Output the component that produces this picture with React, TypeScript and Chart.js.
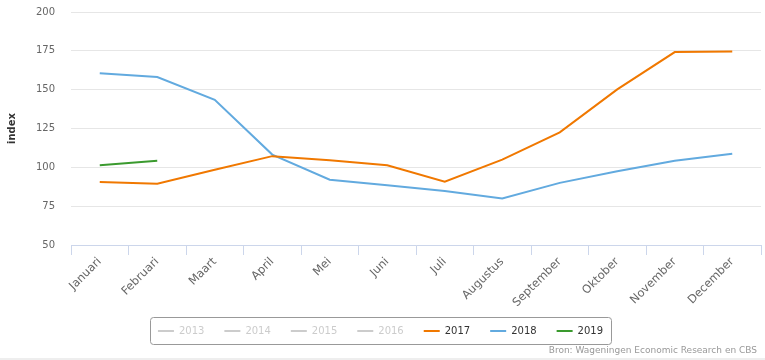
import React, { useEffect, useRef } from "react";
import { Chart, registerables } from "chart.js";

Chart.register(...registerables);

const months = ["Januari", "Februari", "Maart", "April", "Mei", "Juni", "Juli", "Augustus", "September", "Oktober", "November", "December"];
const years = ["2013", "2014", "2015", "2016", "2017", "2018", "2019"];
const values2017 = [90.5, 89.5, 98.5, 107.2, 104.5, 101.3, 90.7, 105, 122.5, 150.2, 174.2, 174.5];
const values2018 = [160.6, 158.1, 143.5, 108.2, 92, 88.5, 84.7, 80, 90, 97.5, 104.3, 108.8];
const values2019 = [101.3, 104.3];
const yTicks = [50, 75, 100, 125, 150, 175, 200];

const FONT = "'DejaVu Sans', Verdana, sans-serif";

export default function App() {
  const ref = useRef<HTMLCanvasElement | null>(null);

  useEffect(() => {
    document.body.style.margin = "0";
    const canvas = ref.current;
    if (!canvas) return;

    const seriesData: Record<string, number[]> = {
      "2017": values2017,
      "2018": values2018,
      "2019": values2019,
    };
    const colors: Record<string, string> = {
      "2013": "#cccccc",
      "2014": "#cccccc",
      "2015": "#cccccc",
      "2016": "#cccccc",
      "2017": "#f07800",
      "2018": "#62aadf",
      "2019": "#3a9a2e",
    };

    const datasets = years.map((y) => ({
      label: y,
      data: seriesData[y] || [],
      hidden: !seriesData[y],
      borderColor: colors[y],
      backgroundColor: colors[y],
      borderWidth: 2,
      pointRadius: 0,
      pointHoverRadius: 0,
      tension: 0,
      fill: false,
    }));

    const extras = {
      id: "extras",
      afterDraw(chart: any) {
        const ctx = chart.ctx;
        const lg = chart.legend;
        if (lg && lg.legendHitBoxes && lg.legendHitBoxes.length) {
          const hb = lg.legendHitBoxes;
          const first = hb[0];
          const last = hb[hb.length - 1];
          const x0 = first.left - 8;
          const x1 = last.left + last.width + 8;
          const y0 = first.top - 9;
          const y1 = first.top + first.height + 8;
          ctx.save();
          ctx.strokeStyle = "#999999";
          ctx.lineWidth = 1;
          ctx.beginPath();
          const r = 3;
          const X0 = Math.round(x0) + 0.5, X1 = Math.round(x1) + 0.5, Y0 = Math.round(y0) + 0.5, Y1 = Math.round(y1) + 0.5;
          ctx.moveTo(X0 + r, Y0);
          ctx.lineTo(X1 - r, Y0);
          ctx.arcTo(X1, Y0, X1, Y0 + r, r);
          ctx.lineTo(X1, Y1 - r);
          ctx.arcTo(X1, Y1, X1 - r, Y1, r);
          ctx.lineTo(X0 + r, Y1);
          ctx.arcTo(X0, Y1, X0, Y1 - r, r);
          ctx.lineTo(X0, Y0 + r);
          ctx.arcTo(X0, Y0, X0 + r, Y0, r);
          ctx.closePath();
          ctx.stroke();
          ctx.restore();
        }
        ctx.save();
        ctx.fillStyle = "#999999";
        ctx.font = "9px " + FONT;
        ctx.textAlign = "right";
        ctx.textBaseline = "middle";
        ctx.fillText("Bron: Wageningen Economic Research en CBS", 757, 351);
        ctx.fillStyle = "#eeeeee";
        ctx.fillRect(0, 358, chart.width, 2);
        ctx.restore();
      },
    };

    const chart = new Chart(canvas, {
      type: "line",
      data: { labels: months, datasets: datasets as any },
      plugins: [extras],
      options: {
        responsive: false,
        animation: false,
        layout: { padding: { left: 0, right: 4, top: 12, bottom: 14 } },
        plugins: {
          tooltip: { enabled: false },
          legend: {
            position: "bottom",
            onClick: () => {},
            labels: {
              font: { family: FONT, size: 10 },
              color: "#333333",
              boxWidth: 16,
              boxHeight: 2,
              padding: 20,
              generateLabels: (c: any) =>
                c.data.datasets.map((ds: any, i: number) => ({
                  text: ds.label,
                  fillStyle: ds.borderColor,
                  strokeStyle: ds.borderColor,
                  lineWidth: 0,
                  hidden: false,
                  fontColor: ds.hidden ? "#cccccc" : "#333333",
                  datasetIndex: i,
                })),
            },
          },
        },
        scales: {
          x: {
            offset: true,
            afterFit: (s: any) => {
              s.height = 61;
            },
            grid: {
              offset: true,
              drawOnChartArea: false,
              drawTicks: true,
              tickLength: 10,
              color: "#ccd6eb",
            },
            border: { color: "#ccd6eb" },
            ticks: {
              autoSkip: false,
              maxRotation: 45,
              minRotation: 45,
              padding: 0,
              color: "#666666",
              font: { family: FONT, size: 11.5 },
            },
          },
          y: {
            min: 50,
            max: 200,
            afterBuildTicks: (s: any) => {
              s.ticks = yTicks.map((v) => ({ value: v }));
            },
            afterFit: (s: any) => {
              s.width = 71;
              s.paddingTop = 0;
              s.paddingBottom = 0;
            },
            grid: { color: "#e6e6e6", drawTicks: false },
            border: { display: false },
            ticks: {
              padding: 16,
              color: "#666666",
              font: { family: FONT, size: 10 },
            },
            title: {
              display: true,
              text: "index",
              color: "#333333",
              font: { family: FONT, size: 10, weight: "bold" },
              padding: { top: 6, bottom: 0 },
            },
          },
        },
      },
    });

    return () => chart.destroy();
  }, []);

  return (
    <div style={{ width: 765, height: 360, position: "relative" }}>
      <canvas ref={ref} width={765} height={360} />
    </div>
  );
}
